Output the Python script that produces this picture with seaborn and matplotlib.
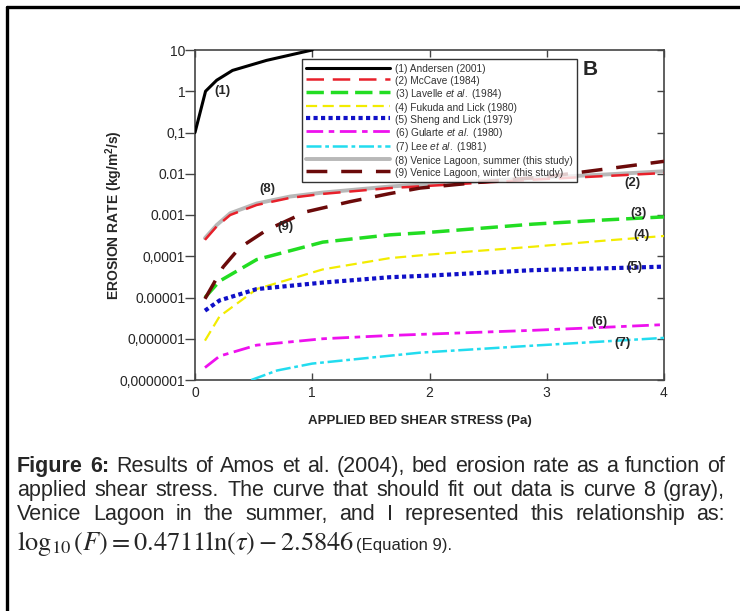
import numpy as np
import pandas as pd
import matplotlib.pyplot as plt
import seaborn as sns
from matplotlib.lines import Line2D
from matplotlib.ticker import NullLocator

# curves (tau in Pa, erosion rate in kg/m2/s)
x_andersen = [0.0, 0.09, 0.185, 0.32, 0.61, 1.0]
y_andersen = [0.1, 1.0, 1.85, 3.2, 5.6, 10.0]

x_venice = [0.085, 0.185, 0.30, 0.526, 0.81, 1.09, 1.66, 2.0, 2.5, 3.0, 3.5, 4.0]
y_mccave = [2.5e-4, 5.3e-4, 1.0e-3, 1.75e-3, 2.6e-3, 3.25e-3, 4.5e-3, 5.1e-3, 6.2e-3, 7.5e-3, 8.8e-3, 1.04e-2]
y_summer = [2.75e-4, 5.7e-4, 1.1e-3, 1.9e-3, 2.8e-3, 3.5e-3, 4.9e-3, 5.6e-3, 6.8e-3, 8.2e-3, 9.6e-3, 1.15e-2]

x_winter = [0.085, 0.24, 0.38, 0.61, 0.95, 1.32, 1.66, 1.92, 2.5, 3.0, 3.5, 4.0]
y_winter = [9.3e-6, 5.5e-5, 1.6e-4, 4.3e-4, 1.2e-3, 2.1e-3, 3.3e-3, 4.5e-3, 6.5e-3, 8.5e-3, 1.3e-2, 2.0e-2]

x_lab = [0.085, 0.21, 0.526, 1.09, 1.66, 2.0, 2.88, 3.5, 4.0]
y_lavelle = [1.0e-5, 2.5e-5, 8.3e-5, 2.2e-4, 3.3e-4, 3.8e-4, 6.0e-4, 7.6e-4, 9.0e-4]
y_fukuda = [9.0e-7, 3.5e-6, 1.6e-5, 4.8e-5, 9.0e-5, 1.1e-4, 1.7e-4, 2.4e-4, 3.1e-4]
y_sheng = [4.8e-6, 8.5e-6, 1.6e-5, 2.3e-5, 3.1e-5, 3.4e-5, 4.6e-5, 5.1e-5, 5.6e-5]
y_gularte = [2.0e-7, 3.8e-7, 7.0e-7, 1.0e-6, 1.2e-6, 1.3e-6, 1.6e-6, 1.9e-6, 2.2e-6]

x_lee = [0.48, 0.7, 1.0, 1.92, 2.88, 4.0]
y_lee = [1.0e-7, 1.7e-7, 2.5e-7, 4.6e-7, 6.8e-7, 1.05e-6]

labels = [
    "(1) Andersen (2001)",
    "(2) McCave (1984)",
    "(3) Lavelle $\\it{et\\ al.}$ (1984)",
    "(4) Fukuda and Lick (1980)",
    "(5) Sheng and Lick (1979)",
    "(6) Gularte $\\it{et\\ al.}$ (1980)",
    "(7) Lee $\\it{et\\ al.}$ (1981)",
    "(8) Venice Lagoon, summer (this study)",
    "(9) Venice Lagoon, winter (this study)",
]
series = [
    (x_andersen, y_andersen),
    (x_venice, y_mccave),
    (x_lab, y_lavelle),
    (x_lab, y_fukuda),
    (x_lab, y_sheng),
    (x_lab, y_gularte),
    (x_lee, y_lee),
    (x_venice, y_summer),
    (x_winter, y_winter),
]
colors = ["black", "#e8202a", "#22dd22", "#f2ec00", "#1010c8", "#ee11ee", "#22dcef", "#b8b8b8", "#6b0a0a"]
styles = ["-", (0, (7, 3.5)), (0, (5, 2)), (0, (5, 2.5)), (0, (1, 0.8)),
          (0, (6, 2, 2, 2)), (0, (6, 1.5, 1.5, 1.5)), "-", (0, (6, 4))]
widths = [2.2, 1.8, 2.5, 1.6, 3.0, 2.0, 1.8, 2.8, 2.5]
zorders = [3, 3, 3, 3, 3, 3, 3, 2, 3]

tick_vals = [1e-7, 1e-6, 1e-5, 1e-4, 1e-3, 1e-2, 1e-1, 1, 10]
tick_txt = ["0,0000001", "0,000001", "0.00001", "0,0001", "0.001", "0.01", "0,1", "1", "10"]

sns.set_theme(style="white")
plt.rcParams['font.family'] = ['Liberation Sans', 'DejaVu Sans']
plt.rcParams['mathtext.fontset'] = 'custom'
plt.rcParams['mathtext.rm'] = 'Liberation Sans'
plt.rcParams['mathtext.it'] = 'Liberation Sans:italic'
plt.rcParams['mathtext.bf'] = 'Liberation Sans:bold'

W, H = 740, 611
fig = plt.figure(figsize=(W / 100, H / 100), dpi=100)
ax = fig.add_axes([195 / W, 1 - 380 / H, 469 / W, 330 / H])

for (xs, ys), lab, c, ls, lw, z in zip(series, labels, colors, styles, widths, zorders):
    df = pd.DataFrame({"tau": xs, "rate": ys})
    sns.lineplot(data=df, x="tau", y="rate", ax=ax, color=c, linestyle=ls,
                 linewidth=lw, label=lab, zorder=z)

ax.set_yscale("log")
ax.set_xlim(0, 4)
ax.set_ylim(1e-7, 10)
ax.set_yticks(tick_vals)
ax.set_yticklabels(tick_txt)
ax.yaxis.set_minor_locator(NullLocator())
ax.set_xticks([0, 1, 2, 3, 4])
ax.set_xticklabels(["0", "1", "2", "3", "4"])

for s in ax.spines.values():
    s.set_color("#444444")
    s.set_linewidth(1.2)
ax.tick_params(axis="y", direction="out", length=7, width=1, color="#444444", labelsize=10,
               pad=0, left=True, right=False)
ax.tick_params(axis="x", direction="in", length=5, width=1, color="#444444", labelsize=10,
               top=True, bottom=True, pad=4)
sec = ax.secondary_yaxis("right")
sec.set_yticks(tick_vals)
sec.set_yticklabels([])
sec.tick_params(direction="in", length=5, width=1, color="#444444")
sec.yaxis.set_minor_locator(NullLocator())
sec.spines["right"].set_visible(False)

ax.set_xlabel("APPLIED BED SHEAR STRESS (Pa)", fontsize=9.5, fontweight="bold")
ax.xaxis.set_label_coords(0.48, -0.105)
ax.set_ylabel("EROSION RATE (kg/m$^\\mathbf{2}$/s)", fontsize=10, fontweight="bold")
ax.yaxis.set_label_coords(-0.15, 0.5)

# tall handle boxes so every row has the same height, with or without italics
leg = ax.legend(loc="upper right", bbox_to_anchor=(0.815, 0.973), borderaxespad=0, fontsize=7.3,
                handlelength=8.3, handleheight=1.35, handletextpad=0.5, labelspacing=0.06,
                borderpad=0.4, frameon=True, fancybox=False)
leg.get_frame().set_edgecolor("black")
leg.get_frame().set_linewidth(1.0)
leg.set_zorder(5)
for t in leg.get_texts():
    t.set_color("#333333")

ax.text(3.37, 3.3, "B", fontsize=15, fontweight="bold", ha="center", va="center")
curve_tags = [("(1)", 0.23, 1.0), ("(8)", 0.62, 4.2e-3), ("(9)", 0.77, 5.0e-4),
              ("(2)", 3.73, 6.0e-3), ("(3)", 3.78, 1.1e-3), ("(4)", 3.81, 3.2e-4),
              ("(5)", 3.75, 5.5e-5), ("(6)", 3.45, 2.5e-6), ("(7)", 3.65, 7.8e-7)]
for t, xv, yv in curve_tags:
    ax.text(xv, yv, t, fontsize=9.5, fontweight="bold", ha="center", va="center", zorder=6)

# outer frame of the figure panel
fig.add_artist(Line2D([7 / W, 7 / W], [0, 1 - 7 / H], color="black", linewidth=2.4, transform=fig.transFigure))
fig.add_artist(Line2D([7 / W, 1], [1 - 7 / H, 1 - 7 / H], color="black", linewidth=2.4, transform=fig.transFigure))

# caption, justified line by line
renderer = fig.canvas.get_renderer()
caption = [
    ("Figure 6: Results of Amos et al. (2004), bed erosion rate as a function of", 472),
    ("applied shear stress.  The curve that should fit out data is curve 8 (gray),", 496),
    ("Venice Lagoon in the summer, and I represented this relationship as:", 520),
]
for k, (line, base) in enumerate(caption):
    words = line.split()
    texts = []
    for i, w in enumerate(words):
        bold = (k == 0 and i < 2)
        texts.append(fig.text(0, 1 - base / H, w, fontsize=15.5,
                              fontweight="bold" if bold else "normal", va="baseline"))
    ws = [t.get_window_extent(renderer).width for t in texts]
    gap = (725 - 17 - sum(ws)) / (len(words) - 1)
    xp = 17
    for t, w in zip(texts, ws):
        t.set_x(xp / W)
        xp += w + gap

eq = fig.text(17 / W, 1 - 550 / H, r"$\log_{10}(F) = 0.4711\ln(\tau) - 2.5846$",
              fontsize=19, va="baseline", math_fontfamily="stix")
eq_w = eq.get_window_extent(renderer).width
fig.text((17 + eq_w + 2) / W, 1 - 550 / H, "(Equation 9).", fontsize=12, va="baseline")

fig.savefig("out.png", dpi=100)
